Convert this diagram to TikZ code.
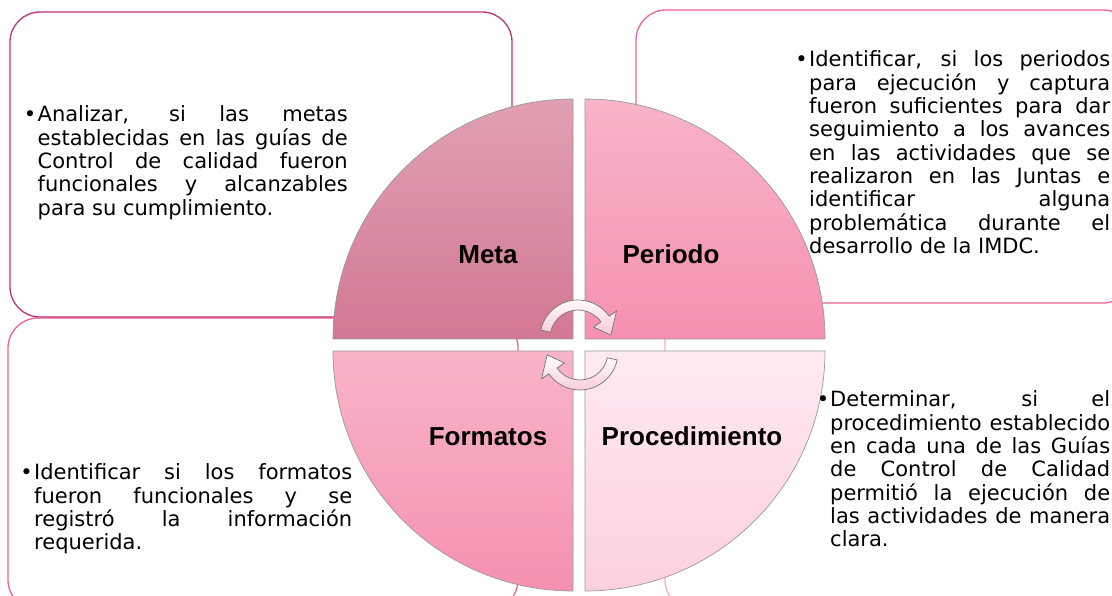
\documentclass[tikz,border=0pt]{standalone}
\usepackage{fontspec}
\setmainfont{DejaVu Sans}
\newfontfamily\labelfont{Liberation Sans}
\definecolor{boxMagenta}{RGB}{196,48,118}
\definecolor{boxPink}{RGB}{238,98,152}
\definecolor{boxPale}{RGB}{250,172,202}
\definecolor{metaTop}{RGB}{224,160,178}
\definecolor{metaBot}{RGB}{211,120,148}
\definecolor{perTop}{RGB}{248,180,200}
\definecolor{perBot}{RGB}{245,145,176}
\definecolor{procTop}{RGB}{255,234,240}
\definecolor{procBot}{RGB}{253,208,222}
\definecolor{arrowPink}{RGB}{246,200,216}
\tolerance=10000
\hbadness=10000

\begin{document}
\begin{tikzpicture}[x=1pt, y=1pt,
  panel/.style={line width=1.3pt, rounded corners=30pt, fill=white},
  quarter/.style={draw=black!40, line width=0.7pt},
  bullettext/.style={anchor=base west, inner sep=0pt, align=justify,
                     font=\fontsize{21}{23.3}\selectfont},
  quadlabel/.style={anchor=base, inner sep=0pt,
                    font=\labelfont\bfseries\fontsize{26}{28}\selectfont},
  cyclearrow/.style={draw=black!55, line width=0.7pt, top color=white,
                     bottom color=arrowPink}
]
  \useasboundingbox (0,0) rectangle (1112,596);
  \clip (0,0) rectangle (1112,596);

  % text panels behind the circle
  \draw[panel, draw=boxPale]    (665,-14) rectangle (1133,300);
  \draw[panel, draw=boxPink]    (8,-14)   rectangle (518,278);
  \draw[panel, draw=boxMagenta] (10,279)  rectangle (512,584);
  \draw[panel, draw=boxPink]    (636,293) rectangle (1133,586);

  \node[bullettext, text width=310pt] (metaText) at (37.5,474)
    {\leavevmode\llap{•\hspace{1.5pt}}Analizar, si las metas\linebreak
     establecidas en las guías de\linebreak Control de calidad fueron\linebreak
     funcionales y alcanzables\linebreak para su cumplimiento.};
  \node[bullettext, text width=301pt] (periodoText) at (809,529)
    {\leavevmode\llap{•\hspace{1.5pt}}Identificar, si los periodos\linebreak
     para ejecución y captura\linebreak fueron suficientes para dar\linebreak
     seguimiento a los avances\linebreak en las actividades que se\linebreak
     realizaron en las Juntas e\linebreak identificar alguna\linebreak
     problemática durante el\linebreak desarrollo de la IMDC.};
  \node[bullettext, text width=318pt] (formatosText) at (34,116)
    {\leavevmode\llap{•\hspace{1.5pt}}Identificar si los formatos\linebreak
     fueron funcionales y se\linebreak registró la información\linebreak
     requerida.};

  % four quarters of the circle
  \shadedraw[quarter, top color=metaTop, bottom color=metaBot]
    (573,257) -- (333,257) arc[start angle=180, end angle=90, radius=240] -- cycle;
  \shadedraw[quarter, top color=perTop, bottom color=perBot]
    (585,257) -- (585,497) arc[start angle=90, end angle=0, radius=240] -- cycle;
  \shadedraw[quarter, top color=perTop, bottom color=perBot]
    (573,245) -- (333,245) arc[start angle=180, end angle=270, radius=240] -- cycle;
  \shadedraw[quarter, top color=procTop, bottom color=procBot]
    (585,245) -- (825,245) arc[start angle=0, end angle=-90, radius=240] -- cycle;

  \node[bullettext, text width=280pt] (procText) at (830,189)
    {\leavevmode\llap{•\hspace{1pt}}Determinar, si el\linebreak
     procedimiento establecido\linebreak en cada una de las Guías\linebreak
     de Control de Calidad\linebreak permitió la ejecución de\linebreak
     las actividades de manera\linebreak clara.};

  \node[quadlabel] (meta)    at (488,332) {Meta};
  \node[quadlabel] (periodo) at (671,332) {Periodo};
  \node[quadlabel] (formatos) at (488,150) {Formatos};
  \node[quadlabel] (proc)    at (692,150) {Procedimiento};

  % circular arrows in the middle
  \begin{scope}[shift={(578,258)}]
    \shadedraw[cyclearrow] (168:38) arc[start angle=168, end angle=35, radius=38]
      -- (35:47) -- (5:33) -- (35:19) -- (35:28)
      arc[start angle=35, end angle=168, radius=28] -- cycle;
  \end{scope}
  \begin{scope}[shift={(580,244)}, rotate=180]
    \shadedraw[cyclearrow] (168:38) arc[start angle=168, end angle=35, radius=38]
      -- (35:47) -- (5:33) -- (35:19) -- (35:28)
      arc[start angle=35, end angle=168, radius=28] -- cycle;
  \end{scope}
\end{tikzpicture}
\end{document}
